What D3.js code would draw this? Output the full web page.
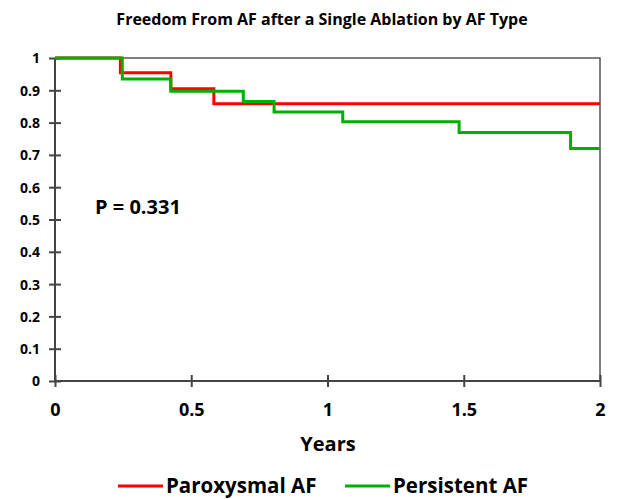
<!DOCTYPE html>
<html>
<head>
<meta charset="utf-8">
<script src="https://cdn.jsdelivr.net/npm/d3@7"></script>
<style>
  body { margin: 0; background: #fff; }
  text { font-family: "Open Sans", "DejaVu Sans", sans-serif; font-weight: bold; fill: #000; }
</style>
</head>
<body>
<div id="chart"></div>
<script>
// Kaplan-Meier estimates
var parTimes = [0, 0.24, 0.425, 0.583, 2]
var parSurv  = [1, 0.954, 0.905, 0.858, 0.858]
var perTimes = [0, 0.247, 0.425, 0.691, 0.804, 1.056, 1.483, 1.892, 2]
var perSurv  = [1, 0.935, 0.897, 0.865, 0.833, 0.803, 0.769, 0.72, 0.72]
var xTicks = [0, 0.5, 1, 1.5, 2]
var yTicks = [0, 0.1, 0.2, 0.3, 0.4, 0.5, 0.6, 0.7, 0.8, 0.9, 1]
var seriesNames = ["Paroxysmal AF", "Persistent AF"]
var seriesColors = ["#ff0000", "#00b000"]

var width = 638
var height = 499
var plotLeft = 55, plotRight = 600, plotTop = 58, plotBottom = 381

var svg = d3.select("#chart").append("svg")
    .attr("width", width)
    .attr("height", height)

var x = d3.scaleLinear().domain([0, 2]).range([plotLeft, plotRight])
var y = d3.scaleLinear().domain([0, 1]).range([plotBottom, plotTop])

// title
svg.append("text")
    .attr("x", 322).attr("y", 25)
    .attr("text-anchor", "middle")
    .style("font-size", "16px")
    .text("Freedom From AF after a Single Ablation by AF Type")

// frame (top and right)
svg.append("path")
    .attr("d", "M" + plotLeft + "," + plotTop + "H" + plotRight + "V" + plotBottom)
    .attr("fill", "none")
    .attr("stroke", "#555")
    .attr("stroke-width", 1.5)

// y axis
var yAxis = svg.append("g")
    .attr("transform", "translate(" + plotLeft + ",0)")
    .call(d3.axisLeft(y).tickValues(yTicks).tickSize(6).tickFormat(d => d === 0 || d === 1 ? d : d3.format(".1f")(d)))
yAxis.selectAll("line, path").attr("stroke", "#444").attr("stroke-width", 2)
yAxis.selectAll(".tick line").attr("x1", 6).attr("x2", -6)
yAxis.selectAll("text").attr("x", -15).attr("dy", "0.35em").style("font-size", "14px")
yAxis.select(".domain").attr("d", "M0," + plotBottom + "V" + plotTop)

// x axis
var xAxis = svg.append("g")
    .attr("transform", "translate(0," + plotBottom + ")")
    .call(d3.axisBottom(x).tickValues(xTicks).tickSize(6).tickFormat(d => d))
xAxis.selectAll("line, path").attr("stroke", "#444").attr("stroke-width", 2)
xAxis.selectAll(".tick line").attr("y1", -6).attr("y2", 6)
xAxis.selectAll("text").attr("y", 22).attr("dy", "0.71em").style("font-size", "18px")
xAxis.select(".domain").attr("d", "M" + plotLeft + ",0H" + plotRight)

// axis title
svg.append("text")
    .attr("x", 328).attr("y", 451)
    .attr("text-anchor", "middle")
    .style("font-size", "20px")
    .text("Years")

// step lines
var line = d3.line()
    .x(d => x(d[0]))
    .y(d => y(d[1]))
    .curve(d3.curveStepAfter)

var series = [d3.zip(parTimes, parSurv), d3.zip(perTimes, perSurv)]
series.forEach(function (s, i) {
    svg.append("path")
        .datum(s)
        .attr("d", line)
        .attr("fill", "none")
        .attr("stroke", seriesColors[i])
        .attr("stroke-width", 3)
})

// p value
svg.append("text")
    .attr("x", 95).attr("y", 214)
    .style("font-size", "20px")
    .text("P = 0.331")

// legend
var legendX = [118, 345]
seriesNames.forEach(function (name, i) {
    svg.append("line")
        .attr("x1", legendX[i]).attr("x2", legendX[i] + 45)
        .attr("y1", 486).attr("y2", 486)
        .attr("stroke", seriesColors[i])
        .attr("stroke-width", 3)
    svg.append("text")
        .attr("x", legendX[i] + 48).attr("y", 493)
        .style("font-size", "20.5px")
        .text(name)
})
</script>
</body>
</html>
